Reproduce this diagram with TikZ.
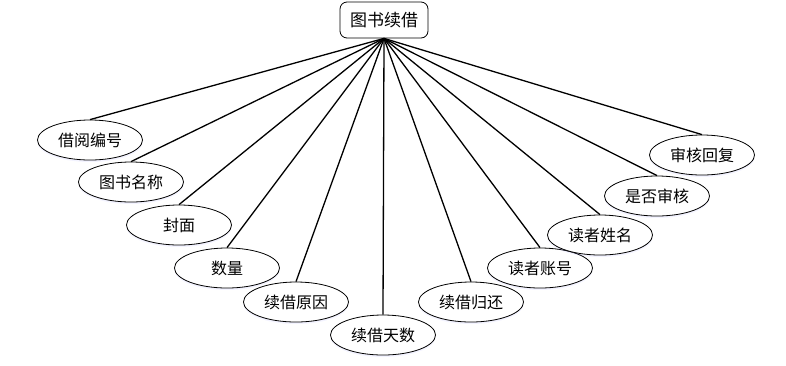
\documentclass[tikz,border=0pt]{standalone}
\usepackage{fontspec}
\newfontfamily\cjk{Noto Sans CJK SC}
\usetikzlibrary{shapes,arrows.meta,positioning,calc,shadows}

\begin{document}
\begin{tikzpicture}[x=1pt, y=-1pt, font=\cjk\fontsize{16}{19}\selectfont,
    attr/.style={draw, ellipse, fill=white, line width=0.8pt, minimum width=105pt, minimum height=40pt, inner sep=0pt,
        drop shadow={shadow xshift=0pt, shadow yshift=-2pt, opacity=0.12, fill=blue!40}},
    link/.style={line width=1.3pt}]
    \useasboundingbox (0,0) rectangle (786,365);
    \node[draw, fill=white, rounded corners=7pt, line width=0.8pt, minimum width=88pt, minimum height=36pt,
        font=\cjk\fontsize{17}{20}\selectfont] (xj) at (384,20) {图书续借};

    % left side
    \node[attr] (jybh) at (90,140) {借阅编号};
    \node[attr] (tsmc) at (131,182) {图书名称};
    \node[attr] (fm) at (179,225) {封面};
    \node[attr] (sl) at (227,268) {数量};
    \node[attr] (xjyy) at (296,302) {续借原因};
    \node[attr] (xjts) at (383,335) {续借天数};
    % right side
    \node[attr] (xjgh) at (471,302) {续借归还};
    \node[attr] (dzzh) at (540,268) {读者账号};
    \node[attr] (dzxm) at (600,235) {读者姓名};
    \node[attr] (sfsh) at (657,196) {是否审核};
    \node[attr] (shhf) at (702,155) {审核回复};

    \foreach \n in {jybh,tsmc,fm,sl,xjyy,xjts,xjgh,dzzh,dzxm,sfsh,shhf}
        \draw[link] (xj.south) -- (\n.north);
\end{tikzpicture}
\end{document}
